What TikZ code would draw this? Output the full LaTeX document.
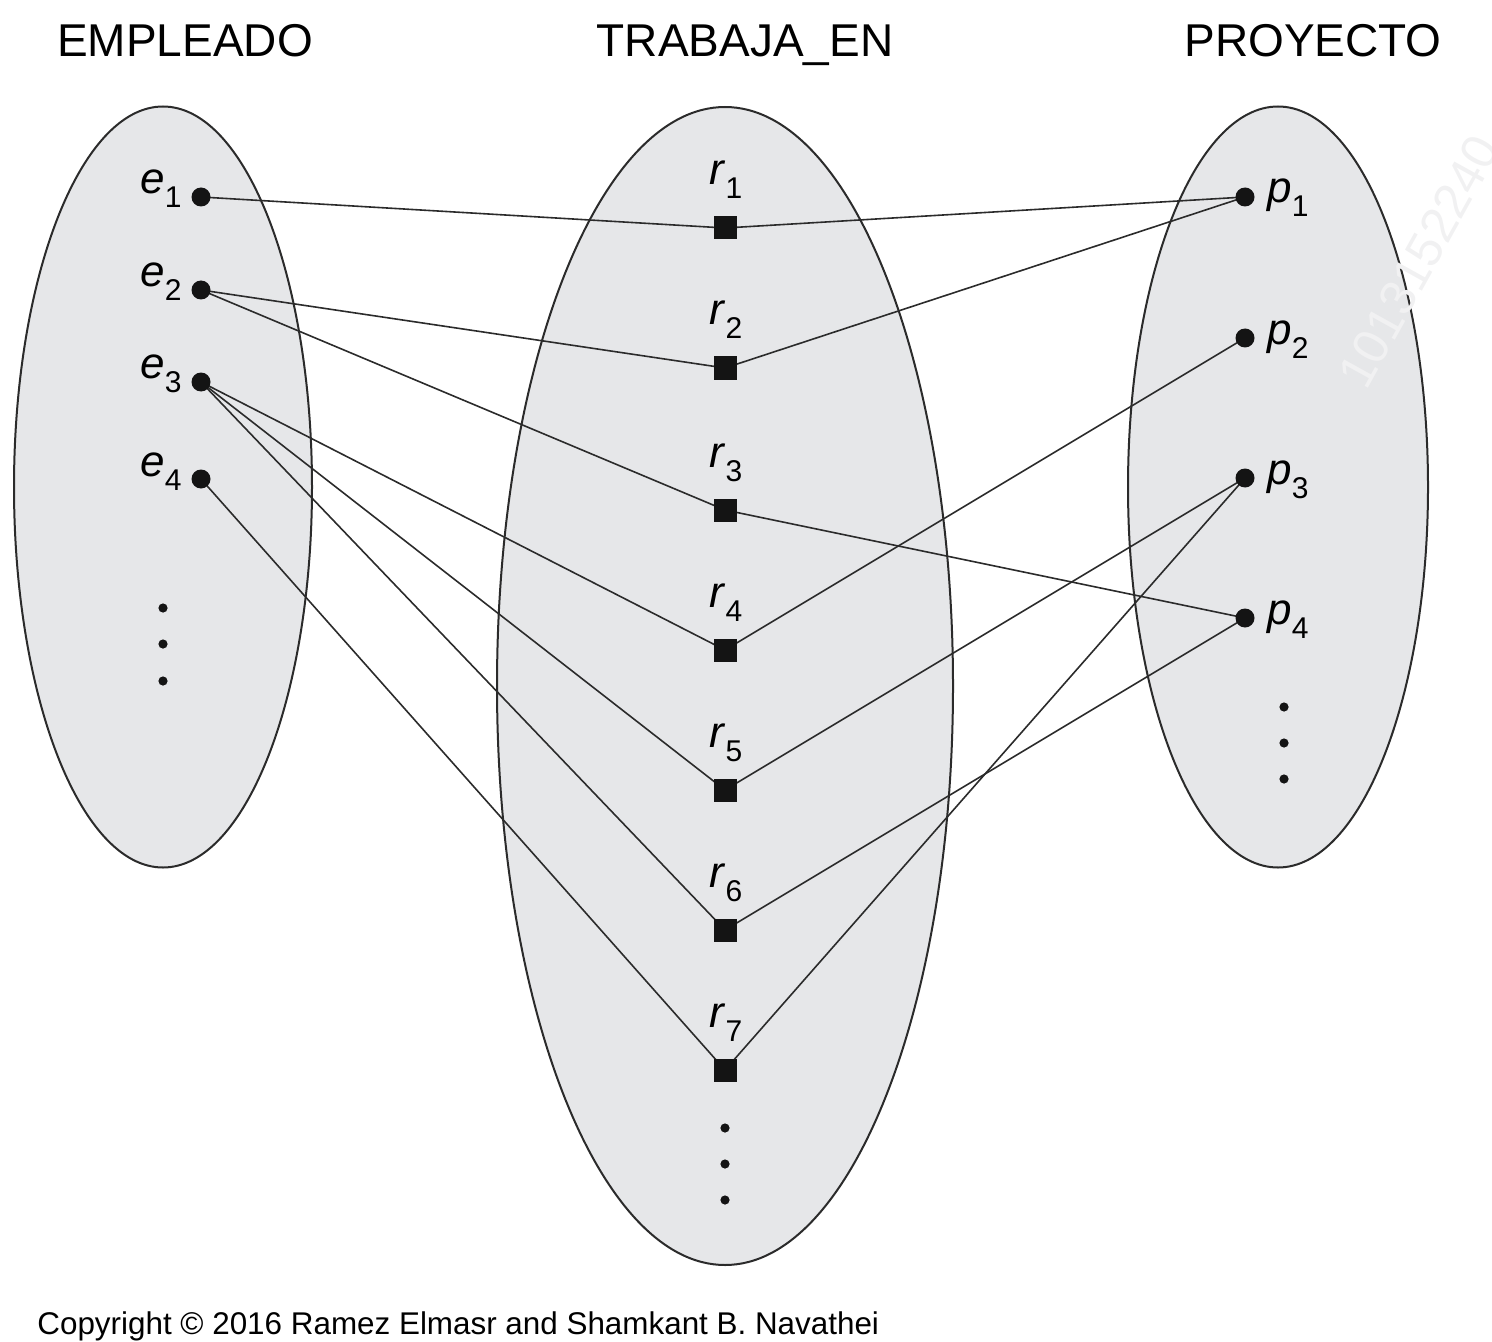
\documentclass[tikz,border=0pt]{standalone}
\usepackage{fontspec}
\setmainfont{Liberation Sans}
\usetikzlibrary{shapes.geometric}
\pgfdeclarelayer{bg}
\pgfdeclarelayer{edges}
\pgfsetlayers{bg,edges,main}
\definecolor{setfill}{HTML}{E6E7E9}
\definecolor{ink}{HTML}{2B2B2B}
\definecolor{wmcol}{HTML}{F1F1F2}
\newcommand\sublab[2]{\textit{#1}\raisebox{-7pt}{\fontsize{15}{15}\selectfont #2}}
\begin{document}
\begin{tikzpicture}[x=0.5pt,y=-0.5pt,
  setnode/.style={ellipse, draw=ink, line width=1pt, fill=setfill, inner sep=0pt},
  dotnode/.style={circle, fill=black!92, inner sep=0pt, minimum size=9.5pt},
  sqnode/.style={rectangle, fill=black!92, inner sep=0pt, minimum size=11.5pt},
  moredot/.style={circle, fill=black!92, inner sep=0pt, minimum size=4.6pt},
  link/.style={draw=ink, line width=0.8pt},
  title/.style={font=\fontsize{23}{23}\selectfont, anchor=base, inner sep=0pt},
  lab/.style={font=\fontsize{22}{22}\selectfont, inner sep=0pt},
  wmark/.style={rotate=61, anchor=base west, inner sep=0pt, font=\fontsize{25}{25}\selectfont, text=wmcol}]
\useasboundingbox (0,0) rectangle (1492,1342);

% titles
\node[title] (tE) at (185,57) {EMPLEADO};
\node[title] (tT) at (745,57) {TRABAJA\_EN};
\node[title] (tP) at (1313,57) {PROYECTO};

% sets
\begin{pgfonlayer}{bg}
\node[setnode, minimum width=149pt, minimum height=380.5pt] (EMP) at (163,487) {};
\node[setnode, minimum width=228pt, minimum height=579pt] (TRA) at (725,686) {};
\node[setnode, minimum width=150pt, minimum height=380.5pt] (PRO) at (1278,487) {};
\node[wmark] (wm) at (1366,392) {1013152240};
\end{pgfonlayer}

% employees
\foreach \i/\y in {1/197,2/290,3/382,4/479}{
  \node[dotnode] (e\i) at (201,\y) {};
  \node[lab, anchor=base east] (le\i) at (182,\y-3) {\sublab{e}{\i}};
}
% relationship instances
\foreach \i/\y in {1/228,2/368,3/510,4/650,5/790,6/930,7/1070}{
  \node[sqnode] (r\i) at (725,\y) {};
  \node[lab, anchor=base] (lr\i) at (726,\y-43) {\sublab{r}{\i}};
}
% projects
\foreach \i/\y in {1/197,2/338,3/478,4/618}{
  \node[dotnode] (p\i) at (1245,\y) {};
  \node[lab, anchor=base west] (lp\i) at (1267,\y+6) {\sublab{p}{\i}};
}

% ellipsis dots
\foreach \y [count=\k] in {608,644,681}{ \node[moredot] (de\k) at (163,\y) {}; }
\foreach \y [count=\k] in {1128,1164,1200}{ \node[moredot] (dr\k) at (725,\y) {}; }
\foreach \y [count=\k] in {707,743,779}{ \node[moredot] (dp\k) at (1284,\y) {}; }

% links
\begin{pgfonlayer}{edges}
\foreach \a/\b in {e1/r1, e2/r2, e2/r3, e3/r4, e3/r5, e3/r6, e4/r7,
                   r1/p1, r2/p1, r3/p4, r4/p2, r5/p3, r6/p4, r7/p3}{
  \draw[link] (\a.center) -- (\b.center);
}
\end{pgfonlayer}

% copyright
\node[anchor=base west, inner sep=0pt, font=\fontsize{15.7}{15.7}\selectfont] (copy) at (37,1334)
  {Copyright © 2016 Ramez Elmasr and Shamkant B. Navathei};
\end{tikzpicture}
\end{document}
